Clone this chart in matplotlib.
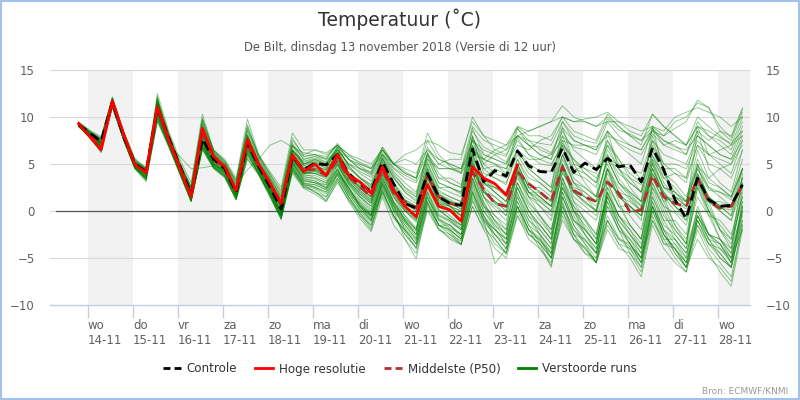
import numpy as np
import pandas as pd
import matplotlib
matplotlib.use("Agg")
import matplotlib.pyplot as plt
from matplotlib.lines import Line2D
from matplotlib.patches import Rectangle

# 6-hourly steps, 13-11 19:00 .. 28-11 13:00 (local time)
times = pd.date_range("2018-11-13 19:00", periods=60, freq="6h")

# rows: 13-11 19h | per day 01h 07h 13h 19h | ... | 28-11 01h 07h 13h
controle = """9.2 | 8.3 7.4 11.6 8.0 | 5.0 4.2 11.0 7.8 | 4.8 1.8 7.7 5.5 | 4.5 2.0 7.3 4.8 | 2.6 0.2 5.8 4.4 | 5.1 4.9 6.0 4.0 | 2.9 2.1 5.2 2.9 | 0.8 0.3 4.0 1.5 | 0.8 0.6 6.6 3.1 | 4.3 3.7 6.4 4.8 | 4.2 4.1 6.7 4.1 | 5.1 4.4 5.6 4.7 | 4.9 3.1 6.7 4.4 | 1.2 -0.8 3.5 1.2 | 0.5 0.6 2.8"""

# high resolution run stops after 10 days (23-11 13h)
hoge_resolutie = """9.3 | 7.9 6.5 11.7 8.2 | 4.9 4.1 11.1 7.6 | 4.6 1.5 8.8 5.8 | 4.7 2.2 7.6 5.0 | 3.0 0.8 6.0 4.2 | 5.0 3.8 6.0 3.8 | 3.1 1.9 4.7 2.2 | 0.5 -0.6 2.8 0.5 | 0.1 -1.1 4.7 3.5 | 2.9 1.7 4.9"""

middelste = """9.2 | 8.1 7.0 11.5 8.0 | 5.0 4.0 10.8 7.6 | 4.6 1.8 8.2 5.5 | 4.4 2.0 7.2 4.8 | 2.8 0.8 5.8 4.4 | 4.4 3.8 5.4 3.6 | 2.6 1.5 4.4 1.9 | 1.0 0.3 3.8 1.5 | 0.8 0.5 4.2 2.3 | 0.8 0.5 4.2 2.9 | 2.0 1.0 4.7 2.2 | 1.5 1.0 3.1 1.9 | -0.1 0.1 3.8 1.5 | 0.8 0.5 3.5 1.0 | 0.3 0.5 2.8"""

verstoorde_runs = """
9.3 | 8.2 7.3 11.7 8.1 | 5.1 4.2 11.2 7.9 | 4.8 1.9 8.0 5.6 | 4.6 2.1 7.5 4.9 | 2.7 0.5 5.9 4.5 | 5.0 4.8 6.2 4.2 | 3.0 2.2 5.3 3.0 | 1.0 0.5 4.2 1.8 | 1.0 0.8 6.5 3.5 | 4.5 3.9 6.5 5.0 | 4.3 4.2 6.8 4.2 | 5.0 4.5 5.7 4.8 | 5.0 3.2 6.8 4.5 | 1.3 -0.6 3.6 1.3 | 0.6 0.7 2.9
9.1 | 8.0 6.8 11.5 7.9 | 4.9 3.9 10.6 7.4 | 4.5 1.6 8.9 6.0 | 4.8 2.4 8.0 5.2 | 3.0 1.2 6.5 5.3 | 5.6 5.2 6.8 5.5 | 4.8 4.0 6.5 4.6 | 3.8 3.2 6.8 5.0 | 4.5 4.2 8.5 6.8 | 6.2 5.8 8.8 7.5 | 7.2 7.0 9.5 8.0 | 7.5 7.2 9.8 8.6 | 8.2 7.5 9.0 8.0 | 8.8 9.5 11.8 11.0 | 9.0 7.8 10.8
9.0 | 7.9 6.5 11.3 7.6 | 4.7 3.6 11.8 7.2 | 4.2 1.2 7.0 5.0 | 4.0 1.6 6.8 4.3 | 2.2 -0.5 5.2 3.2 | 3.0 2.8 4.8 3.0 | 1.5 0.2 3.5 1.0 | -1.0 -2.5 2.0 -0.8 | -1.8 -2.5 3.5 0.0 | -1.5 -3.0 1.8 -0.5 | -2.5 -4.0 0.8 -2.0 | -3.2 -4.5 -0.5 -2.8 | -3.8 -5.0 0.5 -2.5 | -4.0 -5.5 -1.5 -3.5 | -5.0 -6.0 -1.0
9.4 | 8.4 7.6 12.0 8.3 | 5.3 4.4 11.5 8.0 | 4.9 2.2 9.2 6.2 | 5.0 2.6 8.2 5.5 | 3.4 1.3 6.6 4.8 | 4.6 4.0 5.6 3.5 | 2.2 1.2 4.6 2.0 | 0.2 -0.8 3.0 0.8 | 0.2 -0.5 5.2 2.2 | 1.0 0.4 4.2 2.0 | 1.2 0.5 4.8 2.0 | 0.8 0.0 3.5 1.5 | 0.5 -0.5 4.0 1.8 | 1.0 0.2 3.8 1.5 | 0.3 0.1 3.0
9.2 | 8.1 7.0 11.4 7.9 | 5.0 4.0 10.2 7.5 | 4.6 1.5 7.4 5.2 | 4.2 1.8 6.9 4.6 | 2.4 -0.2 5.4 4.0 | 4.0 3.6 5.0 3.0 | 1.6 0.5 3.8 1.5 | -0.5 -1.8 2.5 0.2 | -0.8 -1.5 4.5 1.5 | 0.2 -1.0 3.0 0.8 | -0.5 -2.0 2.5 0.5 | -0.8 -2.5 1.8 -0.5 | -1.5 -3.0 2.5 0.5 | -0.2 -1.5 2.8 0.0 | -2.0 -3.0 1.0
9.3 | 8.3 7.5 11.8 8.2 | 5.2 4.3 10.9 7.8 | 4.8 2.0 8.5 5.8 | 4.9 2.8 4.4 5.5 | 7.0 7.5 6.8 6.2 | 6.0 5.5 6.2 5.8 | 5.2 4.6 6.8 5.0 | 4.2 3.5 8.3 6.0 | 4.8 4.0 7.5 6.5 | 6.0 5.2 8.0 7.0 | 6.8 6.2 8.8 7.5 | 7.0 6.5 8.5 7.2 | 6.5 6.0 8.2 7.0 | 7.5 7.0 9.0 8.5 | 7.8 7.2 8.5
9.0 | 7.8 6.3 11.2 7.7 | 4.6 3.3 12.2 7.5 | 4.0 1.0 6.8 4.8 | 3.8 1.3 6.0 4.0 | 1.8 -0.8 4.5 2.8 | 2.0 1.5 4.0 2.5 | 0.5 -1.0 3.2 0.5 | -2.0 -3.5 1.5 -1.5 | -2.5 -3.6 2.0 -0.5 | -2.5 -4.0 1.0 -2.0 | -4.0 -5.5 0.0 -3.0 | -4.5 -5.5 -1.0 -3.5 | -5.0 -7.0 -1.5 -4.0 | -5.5 -6.5 -2.0 -4.5 | -6.5 -8.0 -2.0
9.2 | 8.2 7.2 11.6 8.0 | 5.0 4.1 11.0 7.7 | 4.7 2.0 9.8 6.4 | 5.2 3.2 9.0 5.8 | 3.8 1.8 7.0 5.0 | 5.2 4.5 6.8 4.8 | 3.5 2.5 5.5 3.5 | 2.0 1.0 5.0 2.5 | 2.0 1.5 7.5 4.5 | 4.8 4.5 7.8 6.0 | 5.0 4.8 7.2 5.5 | 4.0 3.0 6.5 4.5 | 3.5 2.8 5.8 4.0 | 3.0 1.5 4.8 3.5 | 4.5 5.0 7.0
9.1 | 8.0 6.9 11.4 7.8 | 4.8 3.8 10.4 7.3 | 4.4 1.4 7.2 5.0 | 4.1 1.9 7.0 4.5 | 2.0 -0.4 5.0 3.5 | 3.2 2.4 4.2 2.5 | 0.5 -0.5 2.8 0.5 | -1.5 -3.0 1.2 -0.5 | -1.2 -2.0 3.0 0.0 | -1.8 -3.5 1.5 -1.0 | -2.5 -4.5 2.0 -1.0 | -2.0 -3.5 2.5 0.5 | -0.5 -2.0 3.5 1.0 | -1.5 -3.0 1.5 -0.5 | -1.0 -2.5 1.5
9.4 | 8.5 7.8 12.1 8.4 | 5.5 4.5 11.3 8.2 | 5.2 2.6 9.5 6.5 | 5.5 3.5 9.8 6.0 | 4.2 2.5 8.3 6.5 | 6.5 6.0 7.0 6.0 | 5.0 4.5 6.0 5.0 | 5.5 5.0 6.5 5.5 | 5.0 4.5 7.5 6.0 | 5.5 5.0 7.0 6.5 | 7.5 8.0 10.0 9.5 | 9.8 10.0 10.5 9.5 | 8.5 8.0 10.3 9.0 | 8.0 7.0 9.0 8.0 | 7.5 6.5 9.5
9.2 | 8.1 7.1 11.5 8.0 | 5.0 4.0 11.3 7.9 | 4.6 1.7 8.3 5.7 | 4.4 2.1 7.6 4.8 | 2.5 0.4 5.6 4.0 | 4.2 3.8 5.5 3.2 | 1.8 0.8 4.0 1.8 | 0.0 -1.2 3.5 1.0 | 0.2 -0.8 4.8 2.0 | 0.8 -0.5 3.5 1.5 | 0.5 -1.0 4.2 2.0 | 1.5 0.5 4.5 2.5 | 1.2 0.0 4.0 1.8 | 0.5 -1.0 3.0 1.0 | 0.0 -1.0 2.5
9.0 | 7.8 6.4 11.1 7.6 | 4.6 3.4 9.6 7.0 | 4.0 1.1 6.9 4.7 | 3.6 1.2 5.8 4.0 | 1.6 -0.9 4.2 2.5 | 2.2 1.0 3.0 1.2 | -0.5 -2.0 2.5 0.0 | -3.0 -5.1 0.8 -2.0 | -2.8 -3.5 1.5 -1.0 | -5.6 -4.0 0.5 -2.5 | -3.5 -6.0 -0.5 -3.0 | -3.8 -5.5 -1.5 -3.5 | -4.0 -5.5 0.0 -2.5 | -4.5 -6.0 -3.0 -5.0 | -6.0 -7.5 -1.5
9.3 | 8.2 7.2 11.8 8.1 | 5.1 4.3 11.6 8.1 | 4.9 2.1 8.6 5.9 | 4.7 2.3 7.8 5.0 | 2.9 0.7 6.2 4.6 | 5.0 4.6 6.5 4.0 | 3.2 2.4 5.6 3.0 | 1.5 0.8 5.2 2.5 | 2.5 1.8 6.0 3.5 | 2.5 1.5 5.5 3.0 | 2.0 1.2 6.0 3.0 | 2.5 1.5 5.5 3.0 | 1.8 0.5 5.2 2.5 | 2.0 1.0 4.5 2.2 | 2.0 1.2 4.5
9.1 | 8.0 6.7 11.3 7.7 | 4.7 3.7 10.0 7.2 | 4.3 1.3 7.1 4.9 | 4.0 1.7 6.5 4.2 | 2.0 -0.3 4.8 3.0 | 2.5 1.8 3.5 1.5 | 0.0 -1.2 2.8 0.2 | -1.8 -3.2 1.8 -0.8 | -1.5 -2.8 2.8 -0.5 | -3.0 -4.5 0.5 -2.0 | -2.8 -5.0 1.5 -1.5 | -3.5 -5.5 0.5 -2.0 | -3.0 -4.5 1.5 -1.5 | -2.5 -4.0 0.0 -2.5 | -4.0 -5.0 0.5
9.3 | 8.3 7.4 11.7 8.1 | 5.2 4.2 11.0 7.9 | 4.8 2.0 8.1 5.7 | 4.6 2.2 7.4 5.2 | 3.5 1.5 7.0 5.5 | 5.8 5.5 7.2 5.5 | 4.5 3.8 6.2 4.2 | 3.0 2.0 6.2 3.5 | 3.5 2.8 7.8 5.5 | 5.0 4.0 8.8 7.0 | 6.0 5.5 8.0 6.8 | 6.5 6.0 8.5 7.0 | 6.0 5.0 8.8 7.0 | 6.5 6.0 9.5 8.0 | 7.0 6.0 9.0
9.0 | 7.9 6.6 11.2 7.5 | 4.5 3.5 12.0 7.4 | 4.1 1.2 6.6 4.6 | 3.7 1.4 6.2 4.0 | 1.8 -0.6 4.6 2.8 | 2.6 2.0 3.8 1.8 | 0.2 -1.0 2.2 -0.5 | -2.2 -4.0 0.5 -1.5 | -2.0 -3.0 1.0 -1.2 | -2.5 -3.5 0.5 -2.0 | -3.2 -4.5 1.0 -2.5 | -4.5 -5.0 -1.0 -3.0 | -4.0 -6.0 -0.5 -3.5 | -3.5 -5.5 -0.5 -3.0 | -5.0 -6.0 -1.0
9.2 | 8.2 7.1 11.6 8.0 | 5.0 4.1 10.8 7.6 | 4.7 1.8 8.0 5.5 | 4.5 2.0 7.2 4.8 | 2.6 0.3 5.7 4.2 | 4.8 4.4 6.0 3.8 | 2.5 1.4 5.0 2.5 | 0.8 0.0 4.5 1.8 | 1.0 0.2 8.0 4.0 | 3.5 2.8 6.5 4.5 | 3.5 2.5 9.0 5.0 | 3.0 1.5 8.5 4.5 | 2.5 1.0 9.0 4.0 | 2.0 0.5 8.5 4.5 | 3.0 2.0 6.5
9.1 | 8.1 6.9 11.4 7.8 | 4.8 3.9 11.0 7.5 | 4.5 1.5 7.6 5.1 | 4.3 1.9 6.9 4.4 | 2.3 -0.1 5.3 3.8 | 3.8 3.2 4.8 2.5 | 1.0 -0.2 3.5 1.0 | -0.8 -2.0 2.8 0.5 | -0.5 -1.5 4.0 0.8 | -1.0 -2.5 2.5 0.0 | -1.5 -3.0 3.5 0.5 | -1.8 -3.5 2.0 -0.5 | -2.5 -4.0 2.0 -1.0 | -1.0 -2.5 3.0 0.5 | -2.0 -3.5 1.5
9.5 | 8.6 7.9 12.0 8.5 | 5.6 4.6 12.5 8.5 | 5.5 3.0 10.3 6.5 | 5.3 3.3 8.8 6.0 | 4.0 2.2 7.5 6.0 | 6.5 6.2 7.0 6.0 | 5.5 5.0 6.5 5.0 | 6.0 6.5 7.5 7.0 | 6.2 6.0 9.5 8.0 | 7.5 7.0 9.0 8.5 | 9.0 9.5 11.2 10.0 | 9.5 9.0 10.0 9.0 | 8.0 7.5 8.5 8.0 | 9.5 10.0 11.5 11.0 | 8.5 7.5 10.5
9.1 | 8.0 6.6 11.3 7.7 | 4.7 3.6 10.3 7.2 | 4.2 1.2 7.3 4.9 | 4.1 1.7 6.7 4.3 | 2.1 -0.4 4.9 3.2 | 3.0 2.5 4.5 2.0 | 0.5 -0.8 2.0 -0.5 | -2.5 -4.0 0.2 -1.8 | -3.0 -3.6 0.5 -2.0 | -4.0 -5.0 -0.5 -3.0 | -4.0 -5.8 0.0 -2.5 | -4.0 -5.5 -2.0 -4.0 | -4.5 -6.5 -1.0 -3.5 | -4.0 -6.0 -1.5 -4.0 | -5.5 -7.0 -1.5
9.2 | 8.1 7.0 11.5 8.0 | 5.0 4.0 10.8 7.6 | 4.6 1.8 8.2 5.5 | 4.4 2.0 7.2 4.8 | 2.8 0.8 5.8 4.4 | 4.4 3.8 5.4 3.6 | 2.6 1.5 4.4 1.9 | 1.0 0.3 3.8 1.5 | 0.8 0.5 4.2 2.3 | 0.8 0.5 4.2 2.9 | 2.0 1.0 4.7 2.2 | 1.5 1.0 3.1 1.9 | -0.1 0.1 3.8 1.5 | 0.8 0.5 3.5 1.0 | 0.3 0.5 2.8
9.2 | 8.2 7.2 11.6 8.0 | 5.0 4.1 11.1 7.8 | 4.7 1.9 7.8 5.4 | 4.4 2.0 7.0 4.6 | 2.5 0.1 5.5 4.0 | 4.4 4.0 5.8 3.8 | 2.4 1.6 4.8 2.4 | 0.5 -0.5 3.5 1.2 | 0.5 0.0 5.0 2.0 | 1.0 0.0 3.8 1.0 | -0.5 -2.0 3.0 0.0 | -1.5 -3.0 1.5 -1.0 | -2.5 -4.5 1.0 -2.0 | -3.0 -4.5 0.0 -2.5 | -3.5 -5.0 0.0
9.3 | 8.3 7.4 11.9 8.2 | 5.2 4.4 11.7 8.1 | 4.9 2.3 9.0 6.0 | 4.8 2.5 7.9 5.2 | 3.2 1.0 6.4 5.2 | 5.5 5.0 6.6 5.0 | 4.0 3.2 6.0 4.0 | 2.5 1.5 6.2 4.0 | 3.0 2.5 8.8 6.0 | 5.5 5.0 7.5 6.0 | 5.5 5.0 7.0 5.5 | 4.5 3.5 6.0 4.0 | 3.0 2.0 5.5 3.5 | 4.0 3.5 7.0 6.0 | 6.5 7.0 8.0
9.0 | 7.9 6.5 11.2 7.6 | 4.6 3.5 10.1 7.1 | 4.1 1.1 6.7 4.7 | 3.8 1.5 6.4 4.1 | 1.9 -0.6 4.6 2.9 | 2.8 2.3 4.0 2.2 | 0.8 -0.5 2.8 0.2 | -1.2 -2.8 1.5 -1.0 | -1.5 -2.5 2.5 -0.5 | -2.0 -3.0 2.0 -1.0 | -2.0 -3.5 2.5 -0.5 | -2.5 -4.0 1.0 -1.5 | -3.5 -5.0 0.5 -2.0 | -4.5 -6.0 -1.0 -3.5 | -4.0 -5.5 0.0
9.2 | 8.2 7.2 11.6 8.1 | 5.1 4.2 11.4 7.9 | 4.7 2.0 8.4 5.8 | 4.6 2.2 7.6 5.0 | 2.8 0.6 6.0 4.5 | 4.8 4.3 6.0 4.0 | 2.8 2.0 5.0 2.6 | 1.2 0.5 4.8 2.2 | 1.5 1.0 6.8 3.5 | 2.0 1.0 5.0 2.5 | 1.5 0.5 5.5 3.0 | 1.5 0.0 4.5 1.5 | 0.5 -1.0 5.5 2.5 | 1.5 0.5 4.0 1.5 | 0.5 -0.5 3.5
9.3 | 8.4 7.6 11.9 8.3 | 5.3 4.4 10.5 8.0 | 5.0 2.5 9.6 6.3 | 5.0 3.0 8.5 5.8 | 3.6 1.6 7.2 5.5 | 5.8 5.2 6.5 5.0 | 4.2 3.6 6.0 4.5 | 3.5 3.0 5.5 4.5 | 4.5 4.5 6.5 5.5 | 5.0 4.5 6.5 5.5 | 5.5 6.0 7.5 7.0 | 7.0 6.8 8.0 7.5 | 7.0 6.5 8.5 7.5 | 6.8 6.5 8.0 7.0 | 6.0 5.5 7.5
9.1 | 8.0 6.8 11.4 7.8 | 4.8 3.8 10.7 7.4 | 4.4 1.4 7.5 5.1 | 4.2 1.8 6.9 4.5 | 2.4 -0.2 5.2 3.6 | 3.5 3.0 5.0 2.8 | 1.2 0.0 3.8 1.0 | -0.5 -2.0 4.0 0.8 | 0.0 -1.0 5.5 1.5 | -0.5 -2.0 4.5 1.5 | -0.5 -2.5 5.0 1.0 | -1.0 -3.0 4.5 1.0 | -1.5 -3.0 5.0 1.5 | -1.5 -3.5 5.0 1.0 | -2.0 -4.0 4.0
9.2 | 8.2 7.3 11.7 8.1 | 5.1 4.2 11.3 7.8 | 4.8 2.0 8.7 5.8 | 4.6 2.3 7.7 4.9 | 2.9 0.7 6.0 4.2 | 4.0 3.6 5.2 3.2 | 1.8 0.8 4.6 2.2 | 0.5 -0.5 4.5 1.8 | 1.2 0.5 5.8 3.0 | 2.5 1.8 4.5 2.0 | 1.0 0.0 3.5 1.0 | 0.0 -1.0 3.0 0.5 | 0.5 -0.5 3.5 1.0 | 1.5 1.0 4.5 2.5 | 2.0 1.5 4.5
9.0 | 7.9 6.6 11.2 7.6 | 4.6 3.4 9.8 7.0 | 4.0 1.1 6.8 4.6 | 3.7 1.3 6.1 3.9 | 1.7 -0.7 4.3 2.6 | 2.4 1.5 3.3 1.0 | -0.8 -2.2 1.5 -1.5 | -3.0 -4.5 0.0 -2.0 | -2.5 -3.2 1.2 -1.5 | -3.5 -4.5 -0.5 -2.5 | -3.0 -4.5 1.5 -1.0 | -2.0 -3.5 2.0 -0.5 | -2.0 -4.0 1.5 -1.0 | -3.0 -5.0 -0.5 -2.5 | -3.0 -4.5 0.5
9.3 | 8.3 7.5 11.8 8.2 | 5.2 4.3 11.5 8.0 | 4.9 2.2 8.9 6.1 | 4.8 2.4 8.1 5.3 | 3.1 1.0 6.5 5.0 | 5.4 5.0 6.8 4.8 | 3.5 2.8 5.8 3.8 | 2.5 1.8 6.0 3.5 | 3.0 2.5 7.0 5.0 | 6.0 6.5 8.0 7.5 | 6.5 6.0 8.5 6.5 | 5.5 4.5 7.5 5.5 | 4.0 3.0 7.0 5.0 | 5.0 4.5 7.5 6.0 | 5.5 5.0 8.0
9.2 | 8.1 7.0 11.5 7.9 | 4.9 3.9 10.6 7.5 | 4.5 1.6 7.7 5.3 | 4.3 1.9 7.1 4.5 | 2.3 0.0 5.4 3.9 | 3.6 3.0 4.5 2.4 | 0.8 -0.3 3.0 0.6 | -1.0 -2.2 2.6 0.0 | -0.8 -1.8 3.5 0.5 | -0.5 -1.5 3.0 0.5 | -1.0 -2.5 3.0 0.0 | -2.0 -3.5 2.5 -0.5 | -2.0 -3.5 3.0 0.0 | -2.5 -4.0 2.5 -0.5 | -3.0 -4.0 2.0
9.2 | 8.2 7.2 11.6 8.0 | 5.0 4.1 11.0 7.7 | 4.7 1.9 8.1 5.6 | 4.5 2.1 7.4 4.8 | 2.7 0.5 5.8 4.3 | 4.5 4.0 5.6 3.5 | 2.0 1.0 4.2 1.5 | 0.0 -1.0 3.2 0.8 | 0.5 0.0 4.5 2.0 | 1.5 0.5 4.0 2.0 | 0.5 -0.5 4.5 1.5 | 0.5 -0.5 4.0 1.5 | 1.0 0.0 4.5 2.0 | 0.5 -0.5 3.5 1.0 | 1.0 0.5 3.5
9.0 | 7.8 6.2 11.0 7.6 | 4.5 3.1 9.5 6.8 | 3.9 1.0 6.5 4.5 | 3.5 1.2 5.5 3.8 | 1.5 -0.9 4.0 2.4 | 1.8 1.0 3.2 1.2 | -0.2 -1.5 2.0 -0.5 | -2.5 -3.8 0.8 -1.5 | -2.0 -3.0 2.2 -0.8 | -2.0 -3.0 1.0 -1.5 | -3.5 -5.0 0.5 -2.0 | -3.5 -5.0 1.0 -2.0 | -4.5 -6.0 0.0 -3.0 | -5.0 -6.5 -1.0 -3.5 | -4.5 -6.0 -0.5
9.4 | 8.4 7.7 12.0 8.3 | 5.4 4.5 12.0 8.3 | 5.0 2.4 9.3 6.2 | 5.1 2.9 8.6 5.6 | 3.5 1.4 7.0 5.8 | 6.0 5.8 7.0 5.5 | 4.5 4.0 6.8 5.0 | 4.0 3.5 7.5 5.5 | 5.0 4.5 9.0 7.5 | 7.0 6.5 9.0 8.0 | 8.0 7.5 10.0 8.5 | 8.0 7.5 10.3 9.0 | 8.0 7.0 10.3 9.0 | 8.0 7.0 10.0 9.0 | 8.0 7.0 10.0
9.2 | 8.1 7.1 11.5 8.0 | 5.0 4.0 10.9 7.6 | 4.6 1.8 8.0 5.5 | 4.5 2.1 7.3 4.7 | 2.6 0.4 5.7 4.1 | 4.3 3.8 5.3 3.3 | 2.2 1.2 4.5 2.0 | 0.5 -0.5 4.2 1.5 | 0.5 -0.5 5.5 2.5 | 1.5 0.5 4.5 2.0 | 2.0 1.0 6.0 3.0 | 2.0 1.0 6.0 3.5 | 2.0 1.0 6.5 3.5 | 2.5 1.0 6.5 3.5 | 2.5 1.5 5.5
9.1 | 8.0 6.8 11.3 7.7 | 4.7 3.7 10.5 7.3 | 4.3 1.4 7.3 5.0 | 4.1 1.7 6.8 4.4 | 2.2 -0.3 5.1 3.4 | 3.2 2.6 4.4 2.2 | 0.4 -0.6 3.2 0.8 | -1.0 -2.5 2.0 -0.5 | -1.0 -2.0 3.2 0.5 | -1.0 -2.0 2.5 0.0 | -1.5 -3.0 2.5 0.0 | -1.0 -2.5 3.0 0.5 | -1.5 -3.0 3.0 0.5 | -2.0 -3.5 2.5 0.0 | -1.5 -3.0 3.0
9.3 | 8.3 7.4 11.7 8.1 | 5.1 4.3 11.2 7.9 | 4.8 2.1 8.6 5.9 | 4.7 2.4 7.8 5.1 | 3.0 0.9 6.3 4.8 | 5.2 4.8 6.2 4.5 | 3.5 2.6 5.5 3.5 | 2.2 1.5 5.5 3.0 | 2.5 2.0 8.0 5.0 | 4.0 3.5 6.5 4.5 | 3.5 2.5 8.0 5.0 | 4.5 4.0 7.0 5.5 | 3.5 2.0 8.0 5.0 | 4.0 3.0 7.0 5.0 | 4.5 3.5 6.5
9.0 | 7.9 6.5 11.1 7.6 | 4.6 3.5 9.9 7.0 | 4.1 1.2 7.0 4.8 | 3.9 1.5 6.3 4.0 | 1.9 -0.5 4.7 3.0 | 2.8 2.2 4.0 1.8 | 0.2 -1.0 2.5 0.0 | -1.5 -3.0 1.5 -1.0 | -2.0 -3.0 1.8 -1.0 | -2.5 -4.0 0.5 -2.0 | -3.0 -5.0 0.5 -2.5 | -3.0 -4.5 -1.0 -3.0 | -3.5 -5.0 -1.0 -3.0 | -3.0 -4.5 -0.5 -2.5 | -3.0 -5.0 -2.0
9.2 | 8.2 7.2 11.6 8.0 | 5.0 4.1 11.2 7.8 | 4.7 1.9 8.5 5.8 | 4.6 2.2 7.6 4.9 | 2.8 0.6 5.9 4.3 | 4.6 4.2 5.8 3.8 | 2.6 1.8 4.8 2.5 | 0.8 0.0 4.0 1.5 | 1.0 0.5 5.0 2.8 | 2.5 2.0 5.5 3.5 | 3.0 2.0 6.0 3.5 | 2.5 1.5 5.5 3.0 | 2.0 1.0 5.0 2.5 | 2.0 1.0 5.5 3.0 | 2.5 1.5 4.5
9.3 | 8.3 7.5 11.8 8.2 | 5.2 4.3 11.4 8.0 | 4.9 2.2 8.8 6.0 | 4.7 2.4 7.9 5.1 | 3.2 1.1 6.5 5.0 | 5.5 5.0 6.5 5.0 | 4.5 4.2 6.5 5.0 | 4.0 3.5 6.0 4.5 | 4.5 4.0 6.0 5.5 | 6.5 7.0 8.0 8.5 | 9.0 9.5 10.0 9.5 | 9.5 9.0 9.5 9.5 | 9.0 8.5 9.0 8.5 | 10.0 10.5 11.0 10.5 | 10.0 9.0 10.0
9.1 | 8.0 6.9 11.4 7.8 | 4.8 3.8 10.7 7.4 | 4.4 1.5 7.5 5.1 | 4.2 1.8 6.9 4.4 | 2.3 -0.1 5.2 3.7 | 3.4 2.8 4.4 2.5 | 0.6 -0.4 3.5 0.8 | -0.8 -2.0 3.0 0.2 | -0.8 -1.5 4.0 1.0 | -1.2 -2.5 3.0 0.0 | -2.0 -3.5 3.5 0.0 | -2.5 -4.5 2.0 -1.0 | -2.5 -4.0 2.5 -0.5 | -2.0 -3.5 3.5 0.0 | -3.0 -4.5 2.5
9.2 | 8.1 7.0 11.5 7.9 | 4.9 4.0 10.8 7.6 | 4.6 1.7 7.9 5.4 | 4.4 2.0 7.2 4.7 | 2.6 0.3 5.6 4.0 | 4.0 3.4 5.0 2.8 | 1.5 0.5 4.0 1.5 | 0.0 -1.0 3.5 1.0 | 0.5 -0.5 4.0 1.5 | 0.5 -0.5 4.0 1.5 | 1.0 0.0 5.0 2.0 | 1.0 0.0 5.0 2.0 | 0.5 -0.5 4.5 1.5 | 0.0 -1.0 4.0 1.5 | 0.5 -0.5 4.5
9.4 | 8.5 7.7 12.1 8.4 | 5.4 4.5 11.9 8.2 | 5.1 2.6 9.9 6.4 | 5.3 3.1 9.2 5.9 | 3.9 2.0 7.8 5.8 | 6.0 5.6 7.0 5.5 | 5.0 4.5 6.5 5.0 | 4.5 4.0 6.5 5.0 | 5.5 5.5 10.0 8.0 | 6.5 6.0 8.0 7.0 | 6.0 5.5 9.5 7.5 | 7.0 6.5 9.5 8.0 | 7.0 6.5 8.8 7.5 | 7.0 6.0 8.5 7.5 | 8.5 8.0 11.0
9.0 | 7.9 6.4 11.1 7.6 | 4.5 3.3 9.7 6.9 | 4.0 1.0 6.6 4.6 | 3.6 1.2 5.6 3.9 | 1.6 -0.8 4.3 2.6 | 2.0 1.2 3.5 1.5 | -0.2 -1.8 1.8 -0.8 | -2.0 -3.5 1.0 -1.5 | -2.2 -3.5 0.5 -1.8 | -3.0 -4.5 0.0 -2.5 | -3.5 -5.0 -1.0 -3.0 | -4.0 -5.5 0.5 -2.0 | -3.5 -5.5 0.5 -2.5 | -4.0 -6.0 -0.5 -3.0 | -4.5 -6.0 0.0
9.2 | 8.2 7.3 11.7 8.1 | 5.1 4.2 11.3 7.9 | 4.8 2.0 8.5 5.9 | 4.7 2.3 7.7 5.0 | 2.9 0.7 6.1 4.5 | 4.8 4.4 6.2 4.0 | 3.0 2.2 5.2 2.8 | 1.2 0.5 4.5 2.0 | 1.5 1.0 6.0 3.0 | 2.0 1.0 5.0 2.5 | 2.5 1.5 7.0 4.0 | 3.5 2.5 7.5 5.0 | 4.5 4.0 7.5 6.0 | 5.5 5.0 8.0 7.0 | 6.0 5.5 8.5
9.1 | 7.9 6.6 11.2 7.6 | 4.6 3.5 10.2 7.1 | 4.1 1.1 6.9 4.7 | 3.8 1.4 6.1 4.0 | 1.8 -0.6 4.5 2.8 | 2.5 2.0 3.8 1.5 | -0.5 -1.5 2.2 -0.5 | -2.0 -3.5 1.0 -1.5 | -1.5 -2.5 2.0 -1.0 | -2.0 -3.5 1.5 -1.5 | -2.5 -4.0 1.5 -1.5 | -3.0 -4.5 1.5 -1.5 | -3.0 -5.0 1.0 -2.0 | -3.5 -5.0 0.5 -2.5 | -3.5 -5.5 0.5
9.3 | 8.2 7.4 11.7 8.1 | 5.1 4.3 11.6 8.0 | 4.9 2.1 8.7 6.0 | 4.8 2.5 8.0 5.2 | 3.2 1.0 6.4 5.0 | 5.3 4.8 6.4 4.6 | 3.6 2.8 5.7 3.6 | 2.0 1.2 5.8 3.0 | 2.5 2.0 7.0 4.5 | 3.5 3.0 6.0 4.0 | 3.0 2.0 7.5 4.5 | 4.0 3.0 7.0 4.5 | 3.0 2.0 7.5 4.5 | 4.5 3.5 9.0 6.0 | 5.0 4.0 7.5
9.2 | 8.1 7.2 11.5 8.0 | 5.0 4.0 10.0 7.0 | 5.8 4.5 4.6 4.8 | 4.5 2.5 6.5 4.5 | 2.8 0.8 5.5 4.0 | 4.2 3.6 5.2 3.0 | 2.0 1.0 4.4 1.8 | 0.2 -0.8 3.8 1.2 | 0.5 -0.5 4.8 2.0 | 1.0 0.0 4.8 2.0 | 1.5 0.5 4.0 2.0 | 1.0 0.0 4.5 2.0 | 1.5 0.5 4.5 2.0 | 0.5 -0.5 3.5 1.0 | 0.0 -1.0 3.5
9.1 | 8.0 6.8 11.3 7.7 | 4.7 3.7 10.4 7.2 | 4.3 1.3 7.1 4.9 | 4.0 1.6 6.6 4.3 | 2.1 -0.4 5.0 3.3 | 3.0 2.4 4.2 2.0 | 0.6 -0.5 3.0 0.5 | -1.2 -2.5 2.2 -0.3 | -1.0 -2.0 3.5 0.5 | -1.5 -2.5 2.5 -0.5 | -1.5 -3.0 2.0 -1.0 | -2.5 -4.0 1.5 -1.5 | -3.5 -5.5 0.5 -2.5 | -4.0 -5.5 -1.0 -3.0 | -3.5 -5.5 1.0
9.2 | 8.2 7.1 11.6 8.0 | 5.0 4.1 11.1 7.7 | 4.7 1.9 8.3 5.7 | 4.5 2.1 7.5 4.8 | 2.7 0.5 5.8 4.3 | 4.4 3.9 5.6 3.6 | 2.4 1.5 4.6 2.0 | 0.5 -0.2 4.0 1.5 | 0.8 0.2 6.0 3.0 | 2.0 1.0 5.0 2.5 | 1.5 0.5 5.0 2.5 | 2.0 1.0 5.5 3.0 | 1.5 0.0 6.0 3.0 | 1.5 0.5 5.0 2.5 | 1.5 0.5 4.5
"""

# horizontal 0-line as drawn in the original
nul_lijn = ["2018-11-13 07:00", "2018-11-27 19:00"]

dagen = pd.date_range("2018-11-14", "2018-11-28", freq="D")
weekdag = ["ma", "di", "wo", "do", "vr", "za", "zo"]


def parse(row):
    parts = [p.split() for p in row.split("|")]
    return np.array([float(v) for p in parts for v in p])


ctrl = parse(controle)
hres = parse(hoge_resolutie)
p50 = parse(middelste)
runs = [parse(r) for r in verstoorde_runs.strip().splitlines()]
for k, r in enumerate(runs):
    assert len(r) == 60, (k, len(r))

fig = plt.figure(figsize=(8, 4), dpi=100)
ax = fig.add_axes([50 / 800, 95 / 400, 700 / 800, 235 / 400])

# alternate day shading
for d in dagen[::2]:
    ax.axvspan(d, d + pd.Timedelta(days=1), color="#f2f2f2", lw=0, zorder=0)

for v in [-5, 0, 5, 10, 15]:
    ax.axhline(v, color="#d8d8d8", lw=0.8, zorder=1)

ax.plot(pd.to_datetime(nul_lijn), [0, 0], color="#555555", lw=0.9, zorder=2)

for r in runs:
    ax.plot(times, r, color="#008000", lw=0.65, alpha=0.45, zorder=3)

ax.plot(times, p50, color="#b03030", lw=2, dashes=(3.5, 2), zorder=4)
ax.plot(times, ctrl, color="black", lw=2, dashes=(3.5, 2), zorder=5)
ax.plot(times[:len(hres)], hres, color="red", lw=2, zorder=6)

ax.set_ylim(-10, 15)
ax.set_xlim(pd.Timestamp("2018-11-13 03:45"), pd.Timestamp("2018-11-28 17:00"))

ax.set_yticks([-10, -5, 0, 5, 10, 15])
ax.set_yticklabels(["\u221210", "\u22125", "0", "5", "10", "15"])
ax.tick_params(axis="y", length=0, labelsize=8.5, labelcolor="#606060",
               left=True, right=True, labelleft=True, labelright=True, pad=11)

ax.set_xticks(dagen)
ax.set_xticklabels([f"{weekdag[d.weekday()]}\n{d.strftime('%d-%m')}" for d in dagen],
                   ha="left")
ax.tick_params(axis="x", length=9, width=1, color="#c0d0e0", direction="out",
               labelsize=8.5, labelcolor="#606060", pad=1)

for s in ["top", "left", "right"]:
    ax.spines[s].set_visible(False)
ax.spines["bottom"].set_color("#c0d0e0")
ax.spines["bottom"].set_linewidth(1)

fig.text(0.5, 1 - 19 / 400, "Temperatuur (\u02daC)", ha="center", va="center",
         fontsize=13.5, color="#333333")
fig.text(0.5, 1 - 47 / 400, "De Bilt, dinsdag 13 november 2018 (Versie di 12 uur)",
         ha="center", va="center", fontsize=8.4, color="#555555")

handles = [
    Line2D([], [], color="black", lw=2, dashes=(2.5, 1.5)),
    Line2D([], [], color="red", lw=2),
    Line2D([], [], color="#b03030", lw=2, dashes=(2.5, 1.5)),
    Line2D([], [], color="#008000", lw=2),
]
labels = ["Controle", "Hoge resolutie", "Middelste (P50)", "Verstoorde runs"]
fig.legend(handles, labels, loc="center", bbox_to_anchor=(0.5, 1 - 369 / 400),
           ncol=4, frameon=False, fontsize=8.6, handlelength=1.5,
           handletextpad=0.5, columnspacing=1.5, labelcolor="#333333")

fig.text(0.985, 1 - 391 / 400, "Bron: ECMWF/KNMI", ha="right", va="center",
         fontsize=6.5, color="#999999")

fig.patches.append(Rectangle((0.0012, 0.0025), 0.9976, 0.995, transform=fig.transFigure,
                             fill=False, edgecolor="#a3c2ea", lw=1.5))

fig.savefig("out.png", dpi=100)
